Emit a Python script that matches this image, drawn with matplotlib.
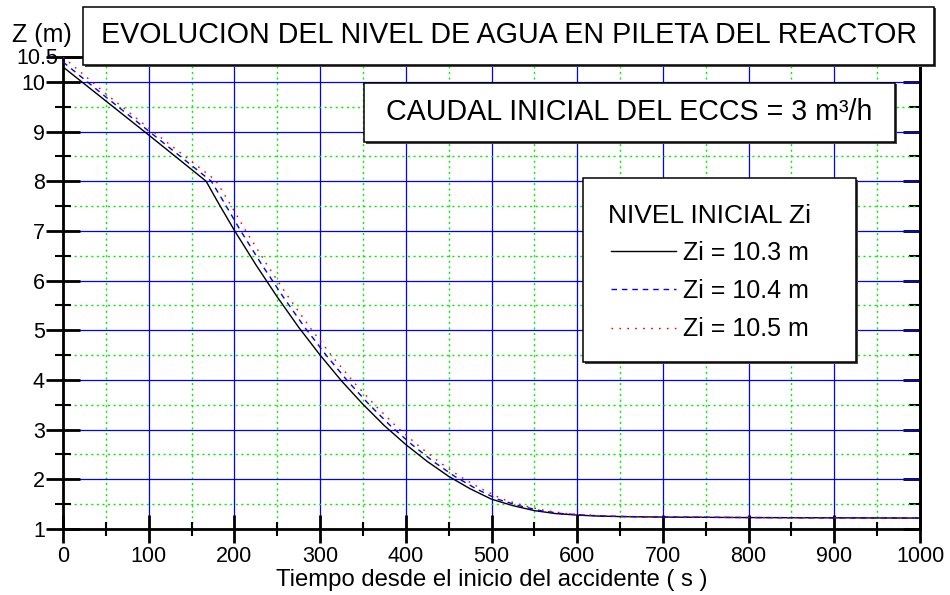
import matplotlib
matplotlib.use('Agg')
import matplotlib.pyplot as plt
from matplotlib.patches import Rectangle
from matplotlib.ticker import MultipleLocator, FixedLocator

plt.rcParams['font.family'] = ['Liberation Sans', 'DejaVu Sans']

# ---------------- data ----------------
t_zi103 = [0, 50, 100, 167, 180, 200, 225, 250, 275, 300, 325, 350, 375, 400, 425, 450, 475, 500,
           525, 550, 575, 600, 625, 650, 700, 800, 900, 1000]
z_zi103 = [10.3, 9.615, 8.93, 8.0, 7.60, 7.01, 6.32, 5.67, 5.06, 4.50, 3.98, 3.51, 3.08, 2.70, 2.36,
           2.06, 1.81, 1.60, 1.47, 1.37, 1.31, 1.28, 1.26, 1.25, 1.24, 1.23, 1.225, 1.22]

t_zi104 = [0, 50, 100, 173, 187, 207, 232, 257, 282, 307, 332, 357, 382, 407, 432, 457, 482, 507,
           532, 557, 582, 607, 632, 657, 707, 807, 900, 1000]
z_zi104 = [10.4, 9.695, 9.01, 8.0, 7.60, 7.01, 6.32, 5.67, 5.06, 4.50, 3.98, 3.51, 3.08, 2.70, 2.36,
           2.06, 1.81, 1.60, 1.47, 1.37, 1.31, 1.28, 1.26, 1.25, 1.24, 1.23, 1.225, 1.22]

t_zi105 = [0, 50, 100, 178, 193, 213, 238, 263, 288, 313, 338, 363, 388, 413, 438, 463, 488, 513,
           538, 563, 588, 613, 638, 663, 713, 813, 900, 1000]
z_zi105 = [10.5, 9.76, 9.07, 8.02, 7.60, 7.01, 6.32, 5.67, 5.06, 4.50, 3.98, 3.51, 3.08, 2.70, 2.36,
           2.06, 1.81, 1.60, 1.47, 1.37, 1.31, 1.28, 1.26, 1.25, 1.24, 1.23, 1.225, 1.22]

series_labels = ['Zi = 10.3 m', 'Zi = 10.4 m', 'Zi = 10.5 m']
x_ticks = [0, 100, 200, 300, 400, 500, 600, 700, 800, 900, 1000]
y_ticks = [1, 2, 3, 4, 5, 6, 7, 8, 9, 10]
title_text = 'EVOLUCION DEL NIVEL DE AGUA EN PILETA DEL REACTOR'
note_text = 'CAUDAL INICIAL DEL ECCS = 3 m\u00b3/h'
legend_title = 'NIVEL INICIAL Zi'
x_label = 'Tiempo desde el inicio del accidente ( s )'
y_label = 'Z (m)'

# ---------------- figure ----------------
W, H = 950, 595
fig = plt.figure(figsize=(W / 100, H / 100), dpi=100)


def fx(px):
    return px / W


def fy(py):
    return 1 - py / H


ax = fig.add_axes([fx(63), fy(529), fx(920) - fx(63), fy(57) - fy(529)])
ax.set_xlim(0, 1000)
ax.set_ylim(1, 10.5)

l1, = ax.plot(t_zi103, z_zi103, color='black', lw=1.0, zorder=4)
l2, = ax.plot(t_zi104, z_zi104, color='#0000ff', lw=1.0, linestyle=(0, (4, 3.5)), zorder=4)
l3, = ax.plot(t_zi105, z_zi105, color='#ff0000', lw=1.0, linestyle=(0, (1.2, 4.5)), zorder=4)

ax.xaxis.set_major_locator(FixedLocator(x_ticks))
ax.xaxis.set_minor_locator(MultipleLocator(50))
ax.yaxis.set_major_locator(FixedLocator(y_ticks + [10.5]))
ax.yaxis.set_minor_locator(MultipleLocator(0.5))
ax.set_xticklabels([str(v) for v in x_ticks])
ax.set_yticklabels([str(v) for v in y_ticks] + [''])

ax.grid(which='major', color='#0000ff', lw=0.9, linestyle='-', zorder=1)
ax.grid(which='minor', color='#00ee00', lw=1.0, linestyle=(0, (1.5, 2.5)), zorder=1)
ax.set_axisbelow(True)

for s in ['left', 'bottom', 'right', 'top']:
    ax.spines[s].set_linewidth(2.0)

ax.tick_params(axis='x', which='major', direction='inout', length=20, width=2.0,
               labelsize=15.5, pad=2, top=False)
ax.tick_params(axis='x', which='minor', direction='inout', length=10, width=1.5, top=False)
ax.tick_params(axis='y', which='major', direction='inout', length=24, width=2.0,
               labelsize=15.5, pad=1, right=False)
ax.tick_params(axis='y', which='minor', direction='inout', length=12, width=1.5, right=False)

sec = ax.secondary_yaxis('right')
sec.yaxis.set_major_locator(FixedLocator(y_ticks))
sec.yaxis.set_minor_locator(MultipleLocator(0.5))
sec.tick_params(which='major', direction='in', length=12, width=2.0, labelright=False)
sec.tick_params(which='minor', direction='in', length=8, width=1.5)
sec.spines['right'].set_linewidth(2.0)

ax.set_xlabel(x_label, fontsize=17.2, labelpad=2)
fig.text(fx(12), fy(41.7), y_label, fontsize=18, ha='left', va='baseline')
fig.text(fx(58), fy(58.5), '10.5', fontsize=15.5, ha='right', va='center', zorder=6)


def box(x0, y0, x1, y1):
    sh = Rectangle((fx(x0 + 1.5), fy(y1 + 1.5)), fx(x1) - fx(x0), fy(y0) - fy(y1),
                   transform=fig.transFigure, facecolor='#444444', edgecolor='none', zorder=5)
    rc = Rectangle((fx(x0), fy(y1)), fx(x1) - fx(x0), fy(y0) - fy(y1),
                   transform=fig.transFigure, facecolor='white', edgecolor='black', lw=1.1, zorder=5.1)
    fig.patches.extend([sh, rc])


box(83, 7, 934, 65)
fig.text(fx(509), fy(43.3), title_text, fontsize=20.6, ha='center', va='baseline', zorder=6)

box(364, 83, 895, 142)
fig.text(fx(629.5), fy(120), note_text, fontsize=20.6, ha='center', va='baseline', zorder=6)

box(583, 178, 856, 362)
leg = fig.legend([l1, l2, l3], series_labels, title=legend_title, frameon=False,
                 loc='upper left', bbox_to_anchor=(fx(596), fy(191.5)), bbox_transform=fig.transFigure,
                 fontsize=18, title_fontsize=19, handlelength=2.6, handletextpad=0.3,
                 labelspacing=0.58, borderpad=0.0)
leg.get_title().set_ha('center')
leg._legend_box.sep = 9
leg.set_zorder(7)

fig.savefig('out.png', dpi=100)
